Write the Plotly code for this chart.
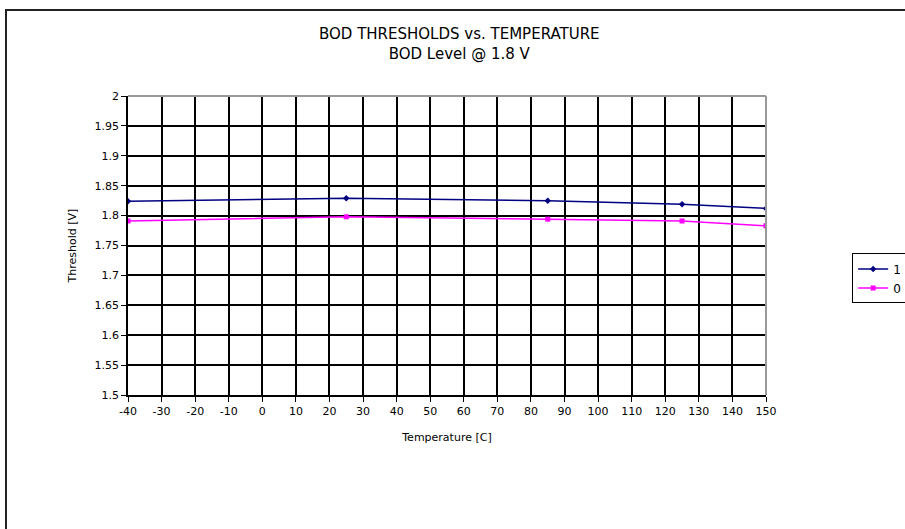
import plotly.graph_objects as go

# Data
temperature = [-40, 25, 85, 125, 150]
threshold_1 = [1.824, 1.829, 1.825, 1.819, 1.812]
threshold_0 = [1.791, 1.798, 1.794, 1.791, 1.783]

x_ticks = list(range(-40, 151, 10))
y_ticks = [1.5, 1.55, 1.6, 1.65, 1.7, 1.75, 1.8, 1.85, 1.9, 1.95, 2]

FONT = "DejaVu Sans, Arial, sans-serif"

fig = go.Figure()

fig.add_trace(go.Scatter(
    x=temperature, y=threshold_1,
    mode='lines+markers',
    name='1',
    line=dict(color='#000080', width=1.5),
    marker=dict(color='#000080', size=5, symbol='diamond'),
))
fig.add_trace(go.Scatter(
    x=temperature, y=threshold_0,
    mode='lines+markers',
    name='0',
    line=dict(color='#FF00FF', width=1.5),
    marker=dict(color='#FF00FF', size=5, symbol='square'),
))

fig.update_layout(
    width=905, height=529,
    margin=dict(l=128, r=139, t=96, b=134, autoexpand=False),
    paper_bgcolor='white',
    plot_bgcolor='white',
    font=dict(family=FONT, size=10, color='black'),
    showlegend=True,
    legend=dict(
        x=1.135, y=0.39, xanchor='left', yanchor='middle',
        bordercolor='black', borderwidth=1,
        font=dict(size=12),
        tracegroupgap=2,
    ),
    xaxis=dict(
        range=[-40, 150], tickvals=x_ticks,
        ticktext=[str(v) for v in x_ticks],
        tickfont=dict(size=11),
        showgrid=True, gridcolor='black', gridwidth=1.5,
        zeroline=False,
        ticks='outside', ticklen=5, tickcolor='black',
        showline=True, linecolor='black', linewidth=1.5, mirror=False,
        title=dict(text='Temperature [C]', font=dict(size=11), standoff=16),
    ),
    yaxis=dict(
        range=[1.5, 2], tickvals=y_ticks,
        ticktext=[f'{v:g}' for v in y_ticks],
        tickfont=dict(size=11),
        showgrid=True, gridcolor='black', gridwidth=1.5,
        zeroline=False,
        ticks='outside', ticklen=5, tickcolor='black',
        showline=True, linecolor='black', linewidth=1.5,
        title=dict(text='Threshold [V]', font=dict(size=11), standoff=16),
    ),
    annotations=[dict(
        text='BOD THRESHOLDS vs. TEMPERATURE<br>BOD Level @ 1.8 V',
        xref='paper', yref='paper', x=0.52, y=1.0, yshift=31,
        xanchor='center', yanchor='bottom', showarrow=False,
        font=dict(size=15, family=FONT),
    )],
    shapes=[
        # grey top/right edges of plot area
        dict(type='line', xref='paper', yref='paper', x0=0, x1=1, y0=1, y1=1,
             line=dict(color='#999999', width=2)),
        dict(type='line', xref='paper', yref='paper', x0=1, x1=1, y0=0, y1=1,
             line=dict(color='#999999', width=2)),
        # outer chart frame
        dict(type='rect', xref='paper', yref='paper',
             x0=(6 - 128) / 638, x1=1000 / 638,
             y0=-600 / 299, y1=(395 - 10) / 299,
             line=dict(color='#222222', width=2)),
    ],
)

fig.write_html(
    "out.html",
    config={'displayModeBar': False},
    post_script="document.body.style.margin='0';document.body.style.overflow='hidden';",
)
